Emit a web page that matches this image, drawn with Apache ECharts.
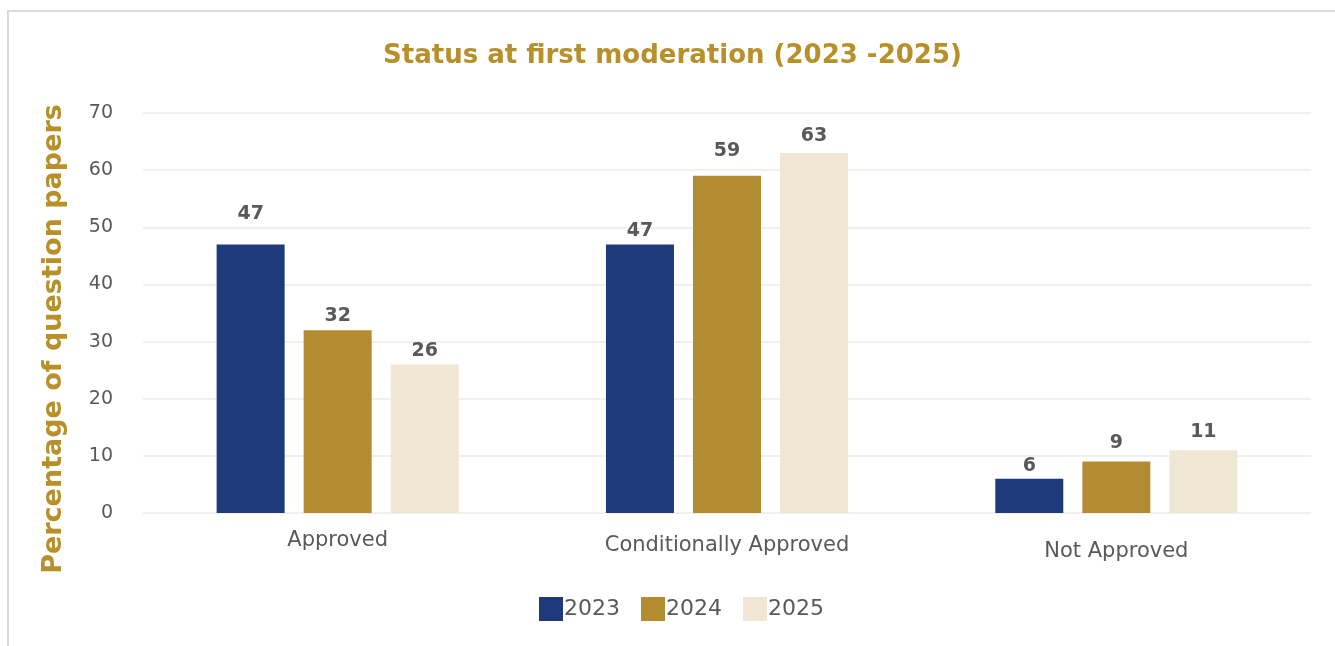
<!DOCTYPE html>
<html>
<head>
<meta charset="utf-8">
<script src="https://cdn.jsdelivr.net/npm/echarts@6/dist/echarts.min.js"></script>
<style>
  html, body { margin: 0; padding: 0; background: #fff; }
  #chart { width: 1335px; height: 646px; }
</style>
</head>
<body>
<div id="chart"></div>
<script>
// categories and values
const categories = ['Approved', 'Conditionally Approved', 'Not Approved']
const years = ['2023', '2024', '2025']
const values2023 = [47, 47, 6]
const values2024 = [32, 59, 9]
const values2025 = [26, 63, 11]
const yTicks = [0, 10, 20, 30, 40, 50, 60, 70]

// colours
const colors = ['#1F3A7A', '#B38B30', '#EFE6D4']
const gold = '#B8902A'
const grey = '#595959'
const font = 'DejaVu Sans'

// gap between bar top and its label, as it sits in the reference
const labelGaps = [[24, 7, 6], [8, 18, 12], [7, 10, 12]]
// the category labels drop a little from left to right
const catLabelDrop = [0, 5, 11]

const chart = echarts.init(document.getElementById('chart'))

const makeSeries = (name, values, idx) => ({
  name: name,
  type: 'bar',
  barWidth: 68,
  barGap: '28%',
  itemStyle: { color: colors[idx] },
  label: {
    show: true,
    position: 'top',
    color: grey,
    fontFamily: font,
    fontWeight: 'bold',
    fontSize: 19
  },
  data: values.map((v, i) => ({
    value: v,
    label: { distance: labelGaps[idx][i] - 3 }
  }))
})

const option = {
  animation: false,
  backgroundColor: '#fff',
  graphic: [{
    type: 'rect',
    shape: { x: 8, y: 11, width: 1400, height: 700 },
    style: { fill: 'none', stroke: '#DADADA', lineWidth: 2 }
  }],
  title: {
    text: 'Status at first moderation (2023 -2025)',
    left: 378,
    top: 38,
    textStyle: {
      color: gold,
      fontFamily: font,
      fontWeight: 'bold',
      fontSize: 26
    }
  },
  legend: {
    data: years,
    bottom: 20,
    left: 534,
    itemWidth: 24,
    itemHeight: 24,
    itemGap: 21,
    icon: 'rect',
    textStyle: {
      color: grey,
      fontFamily: font,
      fontSize: 22,
      padding: [0, 0, 0, -4]
    }
  },
  grid: {
    left: 143,
    right: 24,
    top: 113,
    bottom: 133
  },
  xAxis: {
    type: 'category',
    data: categories.map((c, i) => ({
      value: c,
      textStyle: { padding: [catLabelDrop[i], 0, 0, 0] }
    })),
    axisLine: { show: false },
    axisTick: { show: false },
    axisLabel: {
      color: grey,
      fontFamily: font,
      fontSize: 21,
      margin: 17
    }
  },
  yAxis: {
    type: 'value',
    min: yTicks[0],
    max: yTicks[yTicks.length - 1],
    interval: 10,
    name: 'Percentage of question papers',
    nameLocation: 'middle',
    nameGap: 76,
    nameTextStyle: {
      color: gold,
      fontFamily: font,
      fontWeight: 'bold',
      fontSize: 27,
      padding: [0, 52, 0, 0]
    },
    axisLabel: {
      color: grey,
      fontFamily: font,
      fontSize: 19,
      margin: 30
    },
    splitLine: { lineStyle: { color: '#F0F0F0', width: 2 } }
  },
  series: [
    makeSeries(years[0], values2023, 0),
    makeSeries(years[1], values2024, 1),
    makeSeries(years[2], values2025, 2)
  ]
}

chart.setOption(option)
</script>
</body>
</html>
